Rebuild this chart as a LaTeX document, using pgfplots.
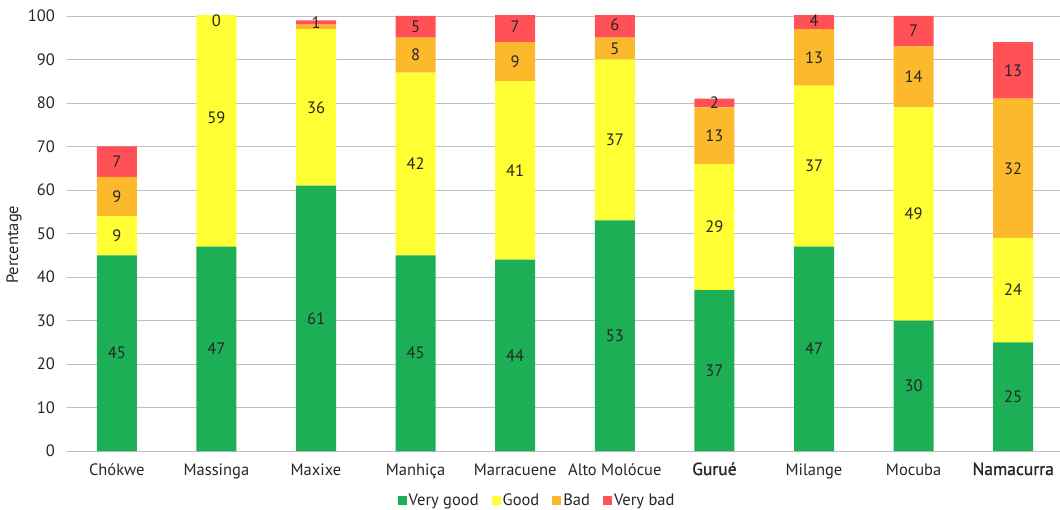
\documentclass[border=0pt]{standalone}
\usepackage{fontspec}
\setmainfont{PT Sans}
\newfontfamily\heavyfont[FakeBold=1.2]{PT Sans}
\usepackage{pgfplots}
\pgfplotsset{compat=1.18}
\usepackage{pgfplotstable}

\definecolor{vgood}{HTML}{1CAF56}
\definecolor{good}{HTML}{FFFF33}
\definecolor{bad}{HTML}{FDB92C}
\definecolor{vbad}{HTML}{FF5156}
\definecolor{gridgray}{HTML}{BFBFBF}
\definecolor{inktext}{HTML}{262626}

% Self-rated condition by district (percent)
% columns: vg = very good, g = good, b = bad, vb = very bad
\pgfplotstableread{
x  vg  g   b   vb
0  45  9   9   7
1  47  59  0   0
2  61  36  1   1
3  45  42  8   5
4  44  41  9   7
5  53  37  5   6
6  37  29  13  2
7  47  37  13  4
8  30  49  14  7
9  25  24  32  13
}\ratings

\newcommand{\basefont}{\fontsize{16.5}{19}\selectfont}

\pgfplotsset{
  common frame/.style={
    scale only axis, width=996pt, height=435pt,
    xmin=-0.5, xmax=9.5, ymin=0, ymax=100,
    /pgf/number format/assume math mode=true,
  },
}

\begin{document}
\begin{tikzpicture}
\begin{axis}[
  name=main,
  common frame,
  ybar stacked, bar width=40pt,
  xtick={0,...,9},
  xticklabels={Chókwe, Massinga, Maxixe, Manhiça, Marracuene, Alto Molócue,
    {\heavyfont\fontsize{17.5}{19}\selectfont Gurué}, Milange, Mocuba,
    {\heavyfont\fontsize{17.5}{19}\selectfont Namacurra}},
  ytick={0,10,...,100},
  ymajorgrids, grid style={draw=gridgray, line width=0.8pt},
  axis line style={draw=none},
  major tick length=0pt,
  tick label style={font=\basefont, text=inktext},
  xticklabel style={anchor=base, yshift=-24pt},
  yticklabel style={anchor=east, inner sep=0pt, xshift=-12pt},
  ylabel={Percentage},
  every axis y label/.style={at={(axis description cs:-0.0532,0.474)},
    rotate=90, anchor=center, font=\basefont, text=inktext},
  legend columns=4,
  legend style={draw=none, fill=none, font=\basefont, text=inktext,
    at={(0.472,-0.113)}, anchor=center,
    nodes={inner sep=2pt},
    /tikz/every even column/.append style={column sep=11pt}},
  legend image code/.code={\fill[#1] (0pt,-4.5pt) rectangle (9pt,4.5pt);},
]
\addplot[fill=vgood, draw=none] table[x=x, y=vg] {\ratings};
\addplot[fill=good,  draw=none] table[x=x, y=g]  {\ratings};
\addplot[fill=bad,   draw=none] table[x=x, y=b]  {\ratings};
\addplot[fill=vbad,  draw=none] table[x=x, y=vb] {\ratings};
\legend{Very good, Good, Bad, Very bad}
\end{axis}

% value labels, centred in each segment
\begin{axis}[
  common frame,
  hide axis, clip=false,
  nodes near coords, point meta=explicit,
  every node near coord/.append style={anchor=center, font=\basefont,
    text=inktext},
]
\addplot[draw=none] table[x=x, y expr={\thisrow{vg}/2}, meta=vg] {\ratings};
\addplot[draw=none] table[x=x, y expr={\thisrow{vg}+\thisrow{g}/2}, meta=g] {\ratings};
\addplot[draw=none, skip coords between index={1}{3}]
  table[x=x, y expr={\thisrow{vg}+\thisrow{g}+\thisrow{b}/2}, meta=b] {\ratings};
\addplot[draw=none]
  table[x=x, y expr={min(\thisrow{vg}+\thisrow{g}+\thisrow{b}+\thisrow{vb}/2,99)}, meta=vb] {\ratings};
\end{axis}

\pgfresetboundingbox
\path[use as bounding box] (main.south west) ++(-67pt,-58pt) rectangle ++(1060pt,509pt);
\end{tikzpicture}
\end{document}
